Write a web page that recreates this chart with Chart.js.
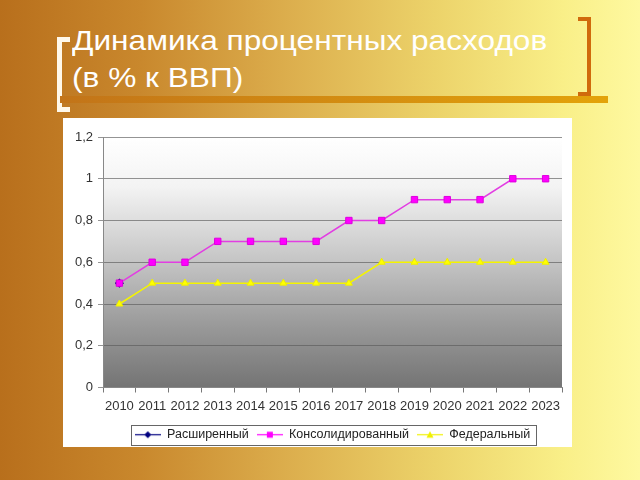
<!DOCTYPE html>
<html>
<head>
<meta charset="utf-8">
<script src="https://cdn.jsdelivr.net/npm/chart.js@4.4.0/dist/chart.umd.min.js"></script>
<style>
  html, body { margin: 0; padding: 0; }
  body {
    width: 640px; height: 480px; overflow: hidden; position: relative;
    background: linear-gradient(to right, #b86f1c 0%, #c9882d 22%, #dcae4d 45%, #ecd36a 68%, #f9ef88 88%, #fef9a0 100%);
    font-family: "Liberation Sans", Arial, sans-serif;
  }
  #title {
    position: absolute; left: 72px; top: 22px;
    color: #fff; font-size: 28px; line-height: 37px; white-space: nowrap;
    transform: scaleX(1.13); transform-origin: left top;
  }
  .bar {
    position: absolute; left: 60px; top: 96px; width: 548px; height: 7px;
    background: linear-gradient(to right, #c27419, #e3a30a);
  }
  .lbr {
    position: absolute; left: 57px; top: 37px; width: 8px; height: 65px;
    border: 5px solid #fff8ea; border-right: none;
  }
  .rbr {
    position: absolute; left: 578px; top: 17px; width: 9px; height: 71px;
    border: 4px solid #d06a0c; border-left: none;
  }
  #box {
    position: absolute; left: 63px; top: 118px; width: 509px; height: 329px;
    background: #fff;
  }
  #chart { position: absolute; left: 63px; top: 118px; }
</style>
</head>
<body>
<div class="lbr"></div>
<div class="rbr"></div>
<div class="bar"></div>
<div id="title">Динамика процентных расходов<br>(в % к ВВП)</div>
<div id="box"></div>
<canvas id="chart" width="509" height="333"></canvas>
<script>
// data
const years = ['2010', '2011', '2012', '2013', '2014', '2015', '2016', '2017', '2018', '2019', '2020', '2021', '2022', '2023'];
const rasshir = [0.5, null, null, null, null, null, null, null, null, null, null, null, null, null];
const konsol = [0.5, 0.6, 0.6, 0.7, 0.7, 0.7, 0.7, 0.8, 0.8, 0.9, 0.9, 0.9, 1.0, 1.0];
const feder = [0.4, 0.5, 0.5, 0.5, 0.5, 0.5, 0.5, 0.5, 0.6, 0.6, 0.6, 0.6, 0.6, 0.6];
const seriesNames = ['Расширенный', 'Консолидированный', 'Федеральный'];
const yTickLabels = ['0', '0,2', '0,4', '0,6', '0,8', '1', '1,2'];

const fontFamily = '"Liberation Sans", Arial, sans-serif';

// little line+marker icons for the legend
function makeIcon(color, shape) {
  const c = document.createElement('canvas');
  c.width = 26; c.height = 13;
  const g = c.getContext('2d');
  g.strokeStyle = color;
  g.lineWidth = 1.2;
  g.beginPath(); g.moveTo(0, 6.5); g.lineTo(26, 6.5); g.stroke();
  g.fillStyle = color;
  g.beginPath();
  if (shape === 'diamond') {
    g.moveTo(13, 3); g.lineTo(16.5, 6.5); g.lineTo(13, 10); g.lineTo(9.5, 6.5);
  } else if (shape === 'square') {
    g.rect(10, 3.5, 6, 6);
  } else {
    g.moveTo(13, 3); g.lineTo(16.5, 9.5); g.lineTo(9.5, 9.5);
  }
  g.closePath();
  g.fill();
  return c;
}
const legendIcons = [makeIcon('#000080', 'diamond'), makeIcon('#ff00ff', 'square'), makeIcon('#f0f000', 'triangle')];

// grey gradient in the plot area + frame around the legend
const chartDecor = {
  id: 'chartDecor',
  beforeDraw(chart) {
    const {ctx, chartArea: a} = chart;
    const g = ctx.createLinearGradient(0, a.top, 0, a.bottom);
    g.addColorStop(0, '#ffffff');
    g.addColorStop(0.2, '#f3f3f3');
    g.addColorStop(0.5, '#c4c4c4');
    g.addColorStop(0.75, '#9a9a9a');
    g.addColorStop(1, '#747474');
    ctx.save();
    ctx.fillStyle = g;
    ctx.fillRect(a.left, a.top, a.width, a.height);
    ctx.restore();
  },
  afterDraw(chart) {
    const ctx = chart.ctx;
    const hb = chart.legend.legendHitBoxes;
    if (!hb || !hb.length) return;
    const first = hb[0], last = hb[hb.length - 1];
    const cy = first.top + first.height / 2;
    ctx.save();
    ctx.strokeStyle = '#666';
    ctx.lineWidth = 1;
    ctx.strokeRect(Math.round(first.left - 4) + 0.5, Math.round(cy - 10) + 0.5,
      Math.round(last.left + last.width - first.left + 10), 20);
    ctx.restore();
  }
};

const ctx = document.getElementById('chart').getContext('2d');
new Chart(ctx, {
  type: 'line',
  data: {
    labels: years,
    datasets: [
      {
        label: seriesNames[0], data: rasshir, order: 3,
        borderColor: '#000080', backgroundColor: '#000080', borderWidth: 1.5,
        pointStyle: 'rectRot', pointRadius: 3.5, pointBackgroundColor: '#000080', pointBorderColor: '#000080'
      },
      {
        label: seriesNames[1], data: konsol, order: 1,
        borderColor: '#e23ee2', backgroundColor: '#ff00ff', borderWidth: 1.5,
        pointStyle: 'rect', pointRadius: 4.5, pointBackgroundColor: '#ff00ff', pointBorderColor: '#dd00dd', pointBorderWidth: 1
      },
      {
        label: seriesNames[2], data: feder, order: 2,
        borderColor: '#f4f400', backgroundColor: '#ffff00', borderWidth: 1.5,
        pointStyle: 'triangle', pointRadius: 4, pointBackgroundColor: '#ffff00', pointBorderColor: '#eeee00', pointBorderWidth: 1
      }
    ]
  },
  options: {
    responsive: false,
    animation: false,
    layout: { padding: { top: 19, right: 10, left: 0, bottom: 0 } },
    plugins: {
      legend: {
        position: 'bottom',
        fullSize: false,
        labels: {
          usePointStyle: true,
          pointStyleWidth: 26,
          padding: 8,
          color: '#222',
          font: { size: 12.5, family: fontFamily },
          generateLabels: chart => chart.data.datasets.map((ds, i) => ({
            text: ds.label,
            pointStyle: legendIcons[i],
            datasetIndex: i,
            fontColor: '#222',
            hidden: false,
            lineWidth: 0,
            strokeStyle: 'rgba(0,0,0,0)',
            fillStyle: 'rgba(0,0,0,0)'
          }))
        }
      },
      tooltip: { enabled: false }
    },
    scales: {
      x: {
        offset: true,
        grid: { offset: true, drawOnChartArea: false, drawTicks: true, tickLength: 5, color: '#777' },
        border: { color: '#888' },
        ticks: { color: '#333', font: { size: 13, family: fontFamily }, padding: 6, maxRotation: 0, autoSkip: false },
        afterFit: s => { s.height = 33; }
      },
      y: {
        min: 0,
        max: 1.2,
        ticks: {
          stepSize: 0.2,
          color: '#333',
          padding: 5,
          font: { size: 13, family: fontFamily },
          callback: v => yTickLabels[Math.round(v / 0.2)]
        },
        grid: { color: 'rgba(90,90,90,0.65)', tickLength: 5 },
        border: { color: '#888' },
        afterFit: s => { s.width = 40; }
      }
    }
  },
  plugins: [chartDecor]
});
</script>
</body>
</html>
